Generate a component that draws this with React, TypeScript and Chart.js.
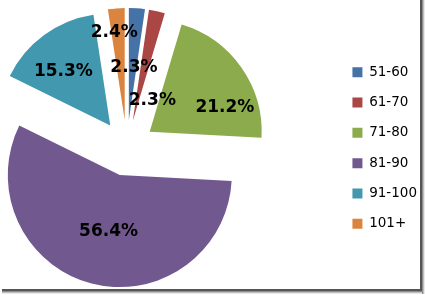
import React, { useEffect, useRef } from "react";
import { Chart, registerables } from "chart.js";

Chart.register(...registerables);

const categories = ["51-60", "61-70", "71-80", "81-90", "91-100", "101+"];
const percentages = [2.3, 2.3, 21.2, 56.4, 15.3, 2.4];
const sliceColors = ["#4572A7", "#AA4643", "#8CAB4D", "#71588F", "#4198AF", "#DB843D"];

// label placement per slice: fraction of radius from exploded apex, and angular shift (deg) from mid angle
const labelRadiusFrac = [0.48, 0.26, 0.71, 0.5, 0.65, 0.8];
const labelAngleShift = [1.3, 29.6, 16.3, -3.1, -3.9, -2.4];

const EXPLODE = 28;
const PIE_RADIUS = 112;
const CANVAS_SHIFT = 82; // canvas extends left beyond the page so the pie sits left of centre

// move every slice outward along its mid angle (Excel-style explosion, without narrowing)
const explodePlugin = {
  id: "explode",
  afterDatasetUpdate(chart: any, args: any) {
    args.meta.data.forEach((arc: any) => {
      const mid = (arc.startAngle + arc.endAngle) / 2;
      arc.x += Math.cos(mid) * EXPLODE;
      arc.y += Math.sin(mid) * EXPLODE;
    });
  },
};

const pctLabelPlugin = {
  id: "pctLabels",
  afterDatasetsDraw(chart: any) {
    const ctx = chart.ctx;
    const meta = chart.getDatasetMeta(0);
    ctx.save();
    ctx.font = "bold 17px 'DejaVu Sans'";
    ctx.fillStyle = "#000";
    ctx.textAlign = "center";
    ctx.textBaseline = "middle";
    meta.data.forEach((arc: any, i: number) => {
      const mid = (arc.startAngle + arc.endAngle) / 2;
      const a = mid + (labelAngleShift[i] * Math.PI) / 180;
      const r = arc.outerRadius * labelRadiusFrac[i];
      ctx.fillText(percentages[i].toFixed(1) + "%", arc.x + Math.cos(a) * r, arc.y + Math.sin(a) * r + 1.5);
    });
    ctx.restore();
  },
};

export default function App() {
  const ref = useRef<HTMLCanvasElement>(null);
  useEffect(() => {
    document.body.style.margin = "0";
    const chart = new Chart(ref.current!, {
      type: "pie",
      data: {
        labels: categories,
        datasets: [
          {
            data: percentages,
            backgroundColor: sliceColors,
            borderWidth: 0,
            offset: 0,
            hoverOffset: 0,
            radius: PIE_RADIUS,
          } as any,
        ],
      },
      options: {
        animation: false,
        responsive: false,
        maintainAspectRatio: false,
        layout: { padding: { left: 0, right: 0, top: 1, bottom: 0 } },
        plugins: {
          tooltip: { enabled: false },
          legend: {
            position: "right",
            labels: {
              boxWidth: 10,
              boxHeight: 10,
              padding: 16.8,
              color: "#000",
              font: { family: "'DejaVu Sans'", size: 13.5 },
            },
          },
        },
      },
      plugins: [explodePlugin, pctLabelPlugin],
    });
    return () => chart.destroy();
  }, []);
  return (
    <div style={{ position: "fixed", left: 0, top: 0, width: 425, height: 295, background: "#fff", overflow: "hidden" }}>
      <canvas ref={ref} width={425 + CANVAS_SHIFT + 2} height={295} style={{ position: "absolute", left: -CANVAS_SHIFT, top: 0 }} />
      <div style={{ position: "absolute", left: 420, top: 0, width: 5, height: 294, background: "linear-gradient(to right, #555 0, #555 1.5px, #aaa 3px, #fff 5px)" }} />
      <div style={{ position: "absolute", left: 2, top: 289, width: 420, height: 5, background: "linear-gradient(to bottom, #555 0, #555 1.5px, #aaa 3px, #fff 5px)" }} />
    </div>
  );
}
